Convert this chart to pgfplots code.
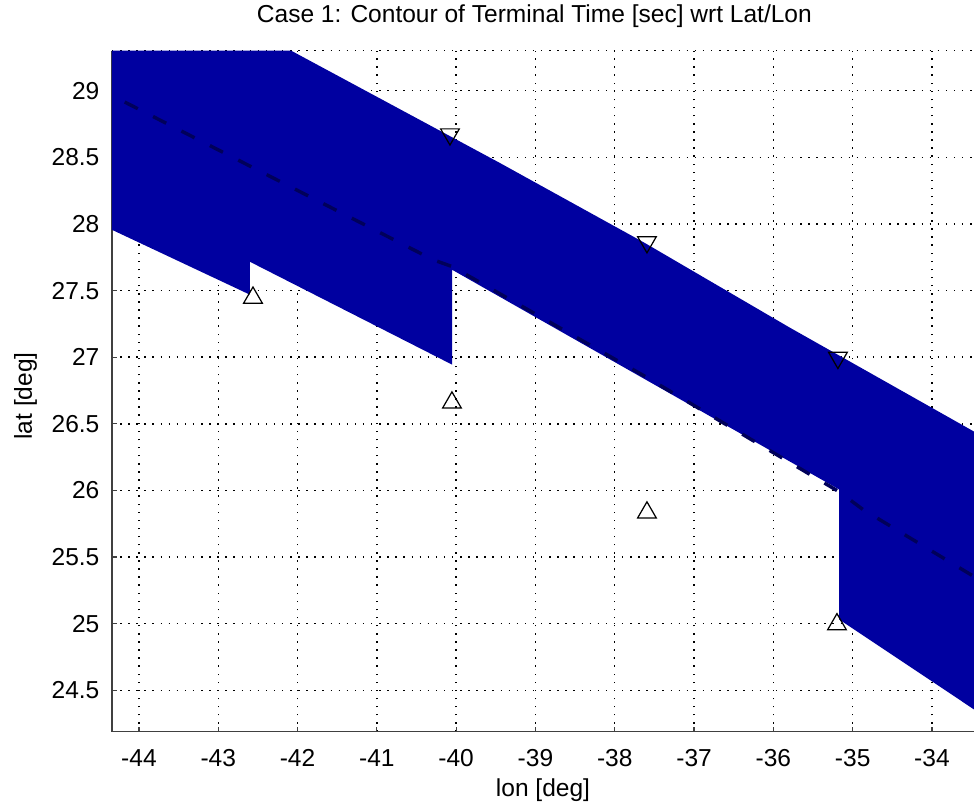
\documentclass[border=0pt]{standalone}
\usepackage{fontspec}
\setmainfont{Liberation Sans}
\usepackage{pgfplots}
\pgfplotsset{compat=1.18}
\definecolor{band}{RGB}{0,0,160}
\definecolor{bandline}{RGB}{0,0,90}
\begin{document}
\begin{tikzpicture}
\begin{axis}[
  name=ax,
  scale only axis,
  width=351.4pt, height=277.6pt,
  xmin=-44.34, xmax=-33.47,
  ymin=24.19, ymax=29.30,
  xtick={-44,-43,-42,-41,-40,-39,-38,-37,-36,-35,-34},
  ytick={24.5,25,25.5,26,26.5,27,27.5,28,28.5,29},
  axis x line*=bottom, axis y line*=left,
  axis line style={draw=black!75, line width=0.5pt},
  tick align=inside,
  major tick length=2pt,
  tick style={black!75, line width=0.5pt},
  grid=major,
  major grid style={black, line width=0.6pt, dash pattern=on 0.6pt off 2.7pt},
  extra y ticks={29.30}, extra y tick labels={},
  extra y tick style={grid=major, tick style={draw=none}},
  font=\fontsize{10}{12}\selectfont,
  /pgf/number format/assume math mode=true,
  ticklabel style={font=\fontsize{10}{12}\selectfont},
  yticklabel style={/pgf/number format/fixed, /pgf/number format/precision=1, xshift=-1.6pt},
  xticklabel style={anchor=base, yshift=-14.3pt},
  every axis title shift=0pt,
  title={Case 1: Contour of Terminal Time [sec] wrt Lat/Lon},
  title style={at={(axis description cs:0.49,1.041)}, anchor=base},
  xlabel={lon [deg]},
  xlabel style={at={(axis description cs:0.5,-0.0954)}, anchor=base},
  ylabel={lat [deg]},
  ylabel style={at={(axis description cs:-0.0928,0.493)}, anchor=base},
]
% open up-triangles
\addplot[only marks, mark=triangle, mark size=4.4pt, black, mark options={line width=0.5pt}]
  coordinates {(-42.562,27.446) (-40.053,26.659) (-37.594,25.834) (-35.198,24.995)};
% open down-triangles
\addplot[only marks, mark=triangle, mark size=4.4pt, black, mark options={line width=0.5pt, rotate=180}]
  coordinates {(-40.078,28.673) (-37.594,27.864) (-35.186,26.996)};
% band region
\addplot[draw=none, fill=band, mark=none] coordinates {
  (-44.34,29.30) (-42.08,29.30) (-39.45,28.458) (-37.62,27.857) (-35.79,27.221)
  (-33.47,26.442) (-33.47,24.357) (-35.17,25.032) (-35.17,26.007)
  (-40.05,27.656) (-40.05,26.944) (-42.60,27.716) (-42.60,27.469) (-44.34,27.956)
} -- cycle;
% dashed centre line
\addplot[bandline, line width=1.4pt, dash pattern=on 6pt off 7pt, mark=none] coordinates {
  (-44.18,28.915) (-40.29,27.731) (-40.05,27.68) (-37.60,26.85) (-35.17,25.99) (-34.87,25.857) (-33.47,25.354)
};
\end{axis}
\pgfresetboundingbox
\path[use as bounding box] ([xshift=-45.65pt, yshift=-31pt]ax.south west) rectangle ([yshift=20.67pt]ax.north east);
\end{tikzpicture}
\end{document}
